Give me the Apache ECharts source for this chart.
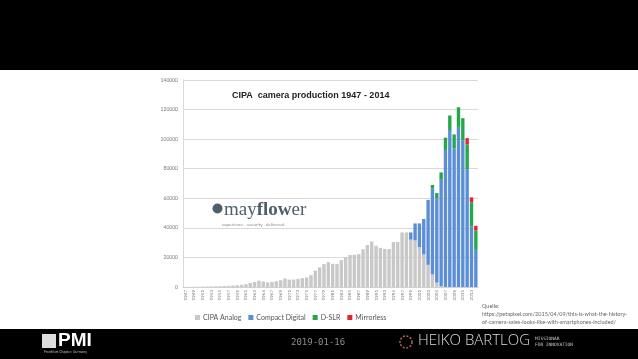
<!DOCTYPE html>
<html><head><meta charset="utf-8">
<script src="https://cdn.jsdelivr.net/npm/echarts@6/dist/echarts.min.js"></script>
<style>html,body{margin:0;padding:0;background:#fff}#c{width:638px;height:359px}</style>
</head><body><div id="c"></div>
<script>
var years = ['1947','1948','1949','1950','1951','1952','1953','1954','1955','1956','1957','1958','1959','1960','1961','1962','1963','1964','1965','1966','1967','1968','1969','1970','1971','1972','1973','1974','1975','1976','1977','1978','1979','1980','1981','1982','1983','1984','1985','1986','1987','1988','1989','1990','1991','1992','1993','1994','1995','1996','1997','1998','1999','2000','2001','2002','2003','2004','2005','2006','2007','2008','2009','2010','2011','2012','2013','2014'];
var analog = [50,80,120,180,250,300,400,500,600,700,800,1000,1200,1500,1900,2700,3400,4300,3700,3100,3400,3900,4600,5800,5000,5000,5500,6000,6500,8000,11000,13300,15500,16800,15700,15500,18200,20200,21700,21800,22200,25500,28400,30800,27900,26500,25700,25700,30400,30400,36900,36900,32000,31500,27000,22000,15000,8500,3000,500,0,0,0,0,0,0,0,0];
var compact = [0,0,0,0,0,0,0,0,0,0,0,0,0,0,0,0,0,0,0,0,0,0,0,0,0,0,0,0,0,0,0,0,0,0,0,0,0,0,0,0,0,0,0,0,0,0,0,0,0,0,0,0,4900,11500,16000,24000,43900,58000,57000,72000,92700,106200,93600,108300,99300,79800,40800,25100];
var dslr = [0,0,0,0,0,0,0,0,0,0,0,0,0,0,0,0,0,0,0,0,0,0,0,0,0,0,0,0,0,0,0,0,0,0,0,0,0,0,0,0,0,0,0,0,0,0,0,0,0,0,0,0,0,0,0,0,0,2500,3500,5000,8300,9800,9600,13300,14900,16700,16500,13000];
var mirrorless = [0,0,0,0,0,0,0,0,0,0,0,0,0,0,0,0,0,0,0,0,0,0,0,0,0,0,0,0,0,0,0,0,0,0,0,0,0,0,0,0,0,0,0,0,0,0,0,0,0,0,0,0,0,0,0,0,0,0,0,0,0,0,0,0,0,4200,3300,3300];
var seriesNames = ['CIPA Analog','Compact Digital','D-SLR','Mirrorless'];
var colors = ['#c8c8c8','#5b8ed6','#25a849','#e0262a'];
var titleText = 'CIPA  camera production 1947 - 2014';
var sourceLines = ['Quelle:','https://petapixel.com/2015/04/09/this-is-what-the-history-','of-camera-sales-looks-like-with-smartphones-included/'];
var footerDate = '2019-01-16';

var chart = echarts.init(document.getElementById('c'), null, {renderer:'canvas'});
var font = 'Lato, "Liberation Sans", sans-serif';
function mk(name, data, i){
  return {name:name, type:'bar', stack:'t', data:data, barCategoryGap:'22%',
    itemStyle:{color:colors[i]}, emphasis:{disabled:true}, animation:false};
}
chart.setOption({
  animation:false,
  backgroundColor:'#ffffff',
  grid:{left:183, right:160, top:80, bottom:72, containLabel:false},
  legend:{left:190, top:309, itemWidth:5, itemHeight:5, itemGap:7, icon:'rect',
    textStyle:{fontFamily:font, fontSize:7, color:'#555', padding:[0,0,0,-2]},
    data:seriesNames},
  xAxis:{type:'category', data:years,
    axisLine:{lineStyle:{color:'#d0d0d0', width:1}}, axisTick:{show:false},
    axisLabel:{interval:1, rotate:90, fontSize:4.5, color:'#777', fontFamily:font, margin:3}},
  yAxis:{type:'value', min:0, max:140000, interval:20000,
    axisLine:{show:true, lineStyle:{color:'#d8d8d8'}}, axisTick:{show:false},
    splitLine:{lineStyle:{color:'#d9d9d9', width:1}},
    axisLabel:{fontSize:5, color:'#777', fontFamily:font, margin:5, formatter:function(v){return String(v);}}},
  series:[mk(seriesNames[0],analog,0), mk(seriesNames[1],compact,1), mk(seriesNames[2],dslr,2), mk(seriesNames[3],mirrorless,3)],
  graphic:[
    {type:'rect', shape:{x:0,y:0,width:638,height:70}, style:{fill:'#000'}, z:100},
    {type:'rect', shape:{x:0,y:329,width:638,height:30}, style:{fill:'#000'}, z:100},
    {type:'text', left:232, top:91, z:50, style:{text:titleText, font:'bold 9px "Liberation Sans", sans-serif', fill:'#222'}},
    {type:'circle', shape:{cx:217.5, cy:208.5, r:5}, style:{fill:'#4d5f6b'}, z:50},
    {type:'text', left:224, top:201, z:50, style:{
      text:'{a|may}{b|flow}{a|er}',
      rich:{a:{fontFamily:'"Liberation Serif", serif', fontSize:19, fill:'#4d5f6b'},
            b:{fontFamily:'"Liberation Serif", serif', fontSize:19, fontWeight:'bold', fill:'#4d5f6b'}}}},
    {type:'text', left:222, top:222, z:50, style:{text:'experience . security . delivered.', font:'4.5px '+font, fill:'#8a8a8a'}},
    {type:'text', left:482, top:302, z:50, style:{text:sourceLines.join('\n'), font:'5.5px '+font, lineHeight:8, fill:'#666'}},
    {type:'text', left:291, top:338, z:110, style:{text:footerDate, font:'9px "DejaVu Sans Mono", monospace', fill:'#8c8c8c'}},
    {type:'rect', shape:{x:42,y:334,width:14,height:14}, style:{fill:'#ddd'}, z:110},
    {type:'text', left:58, top:331, z:110, style:{text:'PMI', font:'bold 19px "Liberation Sans", sans-serif', fill:'#fff'}},
    {type:'text', left:44, top:350, z:110, style:{text:'Frankfurt Chapter, Germany', font:'3.5px '+font, fill:'#bbb'}},
    {type:'circle', shape:{cx:406, cy:342, r:6}, style:{fill:'none', stroke:'#c06050', lineWidth:1.5, lineDash:[2,1.5]}, z:110},
    {type:'text', left:418, top:333, z:110, style:{text:'HEIKO BARTLOG', font:'300 15px "Open Sans", sans-serif', fill:'#ddd'}},
    {type:'text', left:535, top:336, z:110, style:{text:'MISSIONAR\nFÜR INNOVATION', font:'4.5px "DejaVu Sans Mono", monospace', lineHeight:6, fill:'#ccc'}}
  ]
});
</script></body></html>
